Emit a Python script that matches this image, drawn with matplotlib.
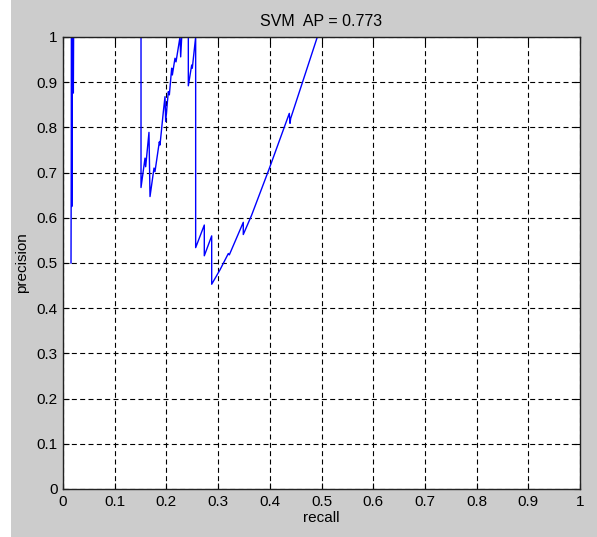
import matplotlib

matplotlib.use("Agg")
import matplotlib.pyplot as plt
from matplotlib.patches import Rectangle

# --------------------------------------------------------------------- #
# Data
# --------------------------------------------------------------------- #
recall = [
    0.0155, 0.0165, 0.0170, 0.0180, 0.0195, 0.0200, 0.0205,
    0.1509, 0.1509, 0.1586, 0.1599, 0.1663, 0.1683, 0.1760, 0.1779,
    0.1863, 0.1876, 0.1941, 0.1973, 0.1986, 0.2037, 0.2057, 0.2102,
    0.2115, 0.2166, 0.2186, 0.2263, 0.2276, 0.2296, 0.2424, 0.2424,
    0.2489, 0.2501, 0.2566, 0.2566, 0.2733, 0.2733, 0.2876, 0.2876,
    0.3037, 0.3198, 0.3217, 0.3487, 0.3487, 0.3649, 0.3990, 0.4377,
    0.4391, 0.4404, 0.4919,
]
precision = [
    0.500, 1.000, 0.625, 1.000, 1.000, 0.876, 1.000,
    1.000, 0.667, 0.732, 0.713, 0.789, 0.647, 0.710, 0.702,
    0.768, 0.761, 0.835, 0.868, 0.813, 0.879, 0.872, 0.931,
    0.916, 0.953, 0.945, 1.000, 0.956, 1.000, 1.000, 0.892,
    0.938, 0.931, 1.000, 0.534, 0.584, 0.516, 0.560, 0.453,
    0.485, 0.521, 0.518, 0.590, 0.563, 0.606, 0.709, 0.831,
    0.809, 0.820, 1.000,
]
ap = 0.773

ticks = [0, 0.1, 0.2, 0.3, 0.4, 0.5, 0.6, 0.7, 0.8, 0.9, 1]
tick_labels = ["0", "0.1", "0.2", "0.3", "0.4", "0.5", "0.6", "0.7", "0.8", "0.9", "1"]

plt.rcParams["font.family"] = ["Liberation Sans", "DejaVu Sans"]

fig = plt.figure(figsize=(5.97, 5.37), dpi=100)
fig.patch.set_facecolor("white")
# MATLAB-style grey figure panel (a thin white strip stays on the left)
fig.patches.append(Rectangle((11 / 597, 0), 1, 1, transform=fig.transFigure,
                             facecolor="#cccccc", edgecolor="none", zorder=-10))

ax = fig.add_axes([63 / 597, 48 / 537, 517 / 597, 452 / 537])
ax.set_facecolor("white")

ax.plot(recall, precision, "-", color="#0000ff", lw=1.0)

ax.set_xlim(0, 1)
ax.set_ylim(0, 1)
ax.set_xticks(ticks)
ax.set_xticklabels(tick_labels)
ax.set_yticks(ticks)
ax.set_yticklabels(tick_labels)
ax.tick_params(direction="in", length=4, width=0.8, top=True, right=True,
               labelsize=11, colors="black", pad=4)
ax.grid(True, color="black", linestyle=(0, (4.5, 3)), lw=0.8)
for s in ax.spines.values():
    s.set_color("#222222")
    s.set_linewidth(1.0)

ax.set_xlabel("recall", fontsize=11, labelpad=2)
ax.set_ylabel("precision", fontsize=11, labelpad=5)
ax.set_title(f"SVM  AP = {ap:.3f}", fontsize=11.5, pad=8)

fig.savefig("out.png", dpi=100, facecolor=fig.get_facecolor())
